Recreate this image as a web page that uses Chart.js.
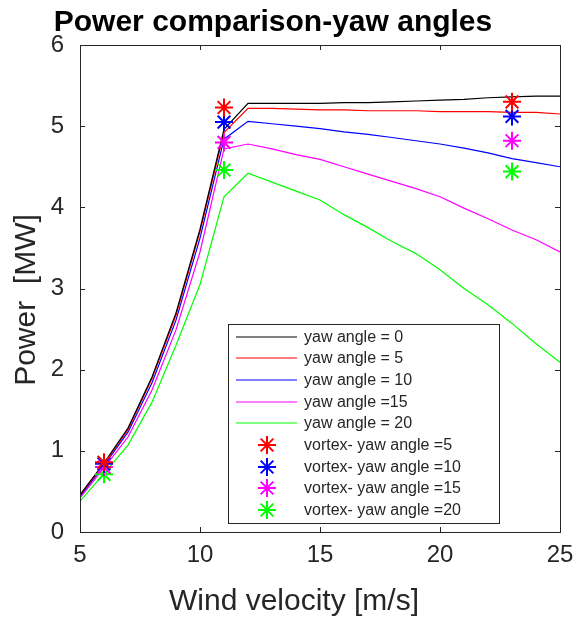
<!DOCTYPE html>
<html lang="en">

<head>
    <script src="https://cdn.jsdelivr.net/npm/chart.js"></script>
    <meta charset="UTF-8">
    <title>Power comparison-yaw angles</title>
    <style>
        body {
            margin: 0;
            background: #fff;
        }
    </style>
</head>

<body>
    <canvas id="powerChart" width="575" height="619"></canvas>

    <script>
        // values
        const windSpeed = [5, 6, 7, 8, 9, 10, 11, 12, 13, 14, 15, 16, 17, 18, 19, 20, 21, 22, 23, 24, 25];
        const yaw0 = [0.46, 0.85, 1.28, 1.91, 2.70, 3.73, 4.96, 5.28, 5.28, 5.28, 5.28, 5.29, 5.29, 5.30, 5.31, 5.32, 5.33, 5.35, 5.36, 5.37, 5.37];
        const yaw5 = [0.45, 0.84, 1.26, 1.89, 2.67, 3.70, 4.92, 5.22, 5.22, 5.21, 5.20, 5.20, 5.19, 5.19, 5.19, 5.18, 5.18, 5.18, 5.17, 5.17, 5.15];
        const yaw10 = [0.44, 0.82, 1.23, 1.84, 2.61, 3.62, 4.84, 5.06, 5.03, 5.00, 4.97, 4.93, 4.90, 4.86, 4.82, 4.78, 4.73, 4.67, 4.60, 4.55, 4.50];
        const yaw15 = [0.42, 0.79, 1.17, 1.75, 2.49, 3.45, 4.72, 4.78, 4.72, 4.65, 4.59, 4.50, 4.41, 4.32, 4.23, 4.13, 3.99, 3.86, 3.72, 3.60, 3.45];
        const yaw20 = [0.38, 0.72, 1.07, 1.60, 2.30, 3.05, 4.13, 4.42, 4.31, 4.20, 4.09, 3.91, 3.75, 3.58, 3.43, 3.23, 3.00, 2.80, 2.57, 2.32, 2.09];

        const vortexSpeed = [6, 11, 23];
        const vortex5 = [0.86, 5.23, 5.30];
        const vortex10 = [0.84, 5.05, 5.12];
        const vortex15 = [0.80, 4.80, 4.82];
        const vortex20 = [0.71, 4.46, 4.44];

        const xTicks = [5, 10, 15, 20, 25];
        const yTicks = [0, 1, 2, 3, 4, 5, 6];

        const font = '"Liberation Sans", Arial, sans-serif';
        const axisColor = '#262626';

        function pts(xs, ys) {
            return xs.map((x, i) => ({ x: x, y: ys[i] }));
        }

        function lineSet(label, ys, color) {
            return {
                type: 'line',
                label: label,
                data: pts(windSpeed, ys),
                borderColor: color,
                borderWidth: 1.2,
                pointRadius: 0,
                tension: 0,
                order: 2
            };
        }

        function starSet(label, ys, color) {
            return {
                type: 'scatter',
                label: label,
                data: pts(vortexSpeed, ys),
                borderColor: color,
                backgroundColor: color,
                pointStyle: 'star',
                pointRadius: 9,
                pointBorderWidth: 2,
                showLine: false,
                order: 1
            };
        }

        const datasets = [
            lineSet('yaw angle = 0', yaw0, '#000000'),
            lineSet('yaw angle = 5', yaw5, '#ff0000'),
            lineSet('yaw angle = 10', yaw10, '#0000ff'),
            lineSet('yaw angle =15', yaw15, '#ff00ff'),
            lineSet('yaw angle = 20', yaw20, '#00ff00'),
            starSet('vortex- yaw angle =5', vortex5, '#ff0000'),
            starSet('vortex- yaw angle =10', vortex10, '#0000ff'),
            starSet('vortex- yaw angle =15', vortex15, '#ff00ff'),
            starSet('vortex- yaw angle =20', vortex20, '#00ff00')
        ];

        // box, inward ticks, legend, title, axis titles
        const frame = {
            id: 'frame',
            afterDatasetsDraw(chart) {
                const ctx = chart.ctx;
                const a = chart.chartArea;
                const xs = chart.scales.x;
                const ys = chart.scales.y;
                ctx.save();
                ctx.strokeStyle = axisColor;
                ctx.lineWidth = 1;
                ctx.strokeRect(Math.round(a.left) + 0.5, Math.round(a.top) + 0.5,
                    Math.round(a.right - a.left), Math.round(a.bottom - a.top));
                ctx.beginPath();
                xTicks.forEach(v => {
                    const px = Math.round(xs.getPixelForValue(v)) + 0.5;
                    ctx.moveTo(px, a.bottom); ctx.lineTo(px, a.bottom - 5);
                    ctx.moveTo(px, a.top); ctx.lineTo(px, a.top + 5);
                });
                yTicks.forEach(v => {
                    const py = Math.round(ys.getPixelForValue(v)) + 0.5;
                    ctx.moveTo(a.left, py); ctx.lineTo(a.left + 5, py);
                    ctx.moveTo(a.right, py); ctx.lineTo(a.right - 5, py);
                });
                ctx.stroke();

                // legend
                const lx = 228, ly = 324, lw = 271, lh = 199;
                ctx.fillStyle = '#fff';
                ctx.fillRect(lx, ly, lw, lh);
                ctx.strokeRect(lx + 0.5, ly + 0.5, lw, lh);
                const rows = [337, 358, 380, 402, 423, 445, 467, 488, 510];
                ctx.font = '16px ' + font;
                ctx.textBaseline = 'middle';
                ctx.textAlign = 'left';
                chart.data.datasets.forEach((ds, i) => {
                    const y = rows[i];
                    ctx.strokeStyle = ds.borderColor;
                    ctx.beginPath();
                    if (ds.type === 'line') {
                        ctx.lineWidth = 1.2;
                        ctx.moveTo(236, y); ctx.lineTo(297, y);
                    } else {
                        ctx.lineWidth = 2;
                        const r = 9, cx = 267;
                        ctx.moveTo(cx - r, y); ctx.lineTo(cx + r, y);
                        ctx.moveTo(cx, y - r); ctx.lineTo(cx, y + r);
                        const d = r * Math.SQRT1_2;
                        ctx.moveTo(cx - d, y - d); ctx.lineTo(cx + d, y + d);
                        ctx.moveTo(cx - d, y + d); ctx.lineTo(cx + d, y - d);
                    }
                    ctx.stroke();
                    ctx.fillStyle = axisColor;
                    ctx.fillText(ds.label, 304, y + 1);
                });

                // titles
                ctx.fillStyle = '#000';
                ctx.textAlign = 'center';
                ctx.textBaseline = 'alphabetic';
                ctx.font = 'bold 30px ' + font;
                ctx.fillText('Power comparison-yaw angles', 273, 31);

                ctx.fillStyle = axisColor;
                ctx.font = '30px ' + font;
                ctx.fillText('Wind velocity [m/s]', 294, 610);

                ctx.save();
                ctx.translate(35, 300);
                ctx.rotate(-Math.PI / 2);
                ctx.fillText('Power  [MW]', 0, 0);
                ctx.restore();
                ctx.restore();
            }
        };

        new Chart(document.getElementById('powerChart'), {
            type: 'line',
            data: { datasets: datasets },
            options: {
                responsive: false,
                animation: false,
                layout: { padding: { top: 45, right: 15, left: 0, bottom: 0 } },
                scales: {
                    x: {
                        type: 'linear',
                        min: 5,
                        max: 25,
                        afterBuildTicks: s => { s.ticks = xTicks.map(v => ({ value: v })); },
                        afterFit: s => { s.height = 87; s.paddingLeft = 0; s.paddingRight = 0; },
                        grid: { display: false, drawTicks: false },
                        border: { display: false },
                        ticks: {
                            padding: 9,
                            color: axisColor,
                            font: { family: font, size: 24 },
                            maxRotation: 0
                        }
                    },
                    y: {
                        min: 0,
                        max: 6,
                        afterBuildTicks: s => { s.ticks = yTicks.map(v => ({ value: v })); },
                        afterFit: s => { s.width = 80; s.paddingTop = 0; s.paddingBottom = 0; },
                        grid: { display: false, drawTicks: false },
                        border: { display: false },
                        ticks: {
                            padding: 16,
                            color: axisColor,
                            font: { family: font, size: 24 }
                        }
                    }
                },
                plugins: {
                    legend: { display: false },
                    tooltip: { enabled: false }
                }
            },
            plugins: [frame]
        });
    </script>
</body>

</html>
